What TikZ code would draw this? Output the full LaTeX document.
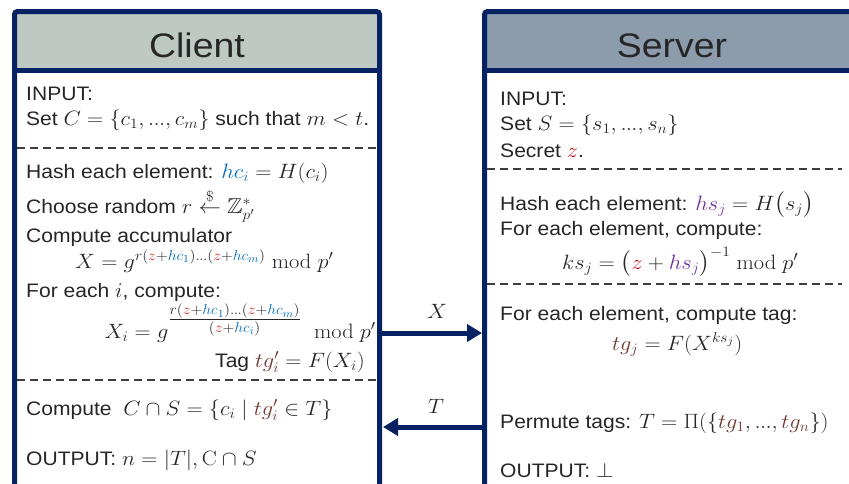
\documentclass[tikz,border=0pt]{standalone}
\usepackage{amsmath,amssymb,graphicx}
\usepackage[no-math]{fontspec}
\setmainfont{Liberation Sans}
\usetikzlibrary{arrows.meta}
\definecolor{navy}{RGB}{6,34,98}
\definecolor{clienthead}{RGB}{191,201,196}
\definecolor{serverhead}{RGB}{140,156,172}
\definecolor{txt}{RGB}{38,38,38}
\definecolor{zred}{RGB}{200,16,16}
\definecolor{hblue}{RGB}{0,112,192}
\definecolor{hpurple}{RGB}{112,48,160}
\definecolor{tbrown}{RGB}{112,56,46}
\newcommand{\zz}{\textcolor{zred}{z}}
\newcommand{\hc}[1]{\textcolor{hblue}{hc_{#1}}}
\newcommand{\hs}[1]{\textcolor{hpurple}{hs_{#1}}}
\newcommand{\tgg}[1]{\textcolor{tbrown}{tg_{#1}}}
\newcommand{\tgp}{\textcolor{tbrown}{tg'_i}}
\newcommand{\el}{{.\mkern-0.5mu.\mkern-0.5mu.}}
\newcommand{\m}[1]{{\fontsize{21.5}{25}\selectfont$#1$}}
\newcommand{\wx}[1]{\scalebox{1.08}[1]{#1}}
\newcommand{\wt}[1]{\scalebox{1.1}[1]{#1}}
\begin{document}
\begin{tikzpicture}[x=1pt,y=-1pt,
  box/.style={draw=navy,line width=5pt,rounded corners=3pt},
  hline/.style={draw=navy,line width=5pt},
  dline/.style={draw=txt!90,line width=1.3pt,dash pattern=on 8pt off 5pt},
  title/.style={anchor=base,inner sep=0pt,text=txt,font=\fontsize{34}{38}\selectfont},
  body/.style={anchor=base west,inner sep=0pt,text=txt,font=\fontsize{19.5}{23}\selectfont},
  bodyr/.style={body,anchor=base east},
  msg/.style={draw=navy,line width=5pt,-{Triangle[length=15pt,width=17pt]}},
  lab/.style={anchor=base,inner sep=0pt,text=txt}]
\clip (0,0) rectangle (849,483);
% client box
\fill[clienthead] (14.5,11.5) rectangle (379.5,70.5);
\fill[white] (14.5,70.5) rectangle (379.5,500);
\draw[box] (14.5,500) -- (14.5,11.5) -- (379.5,11.5) -- (379.5,500);
\draw[hline] (14.5,70.5) -- (379.5,70.5);
% server box
\fill[serverhead] (484.5,11.5) rectangle (862,70.5);
\fill[white] (484.5,70.5) rectangle (862,500);
\draw[box] (484.5,500) -- (484.5,11.5) -- (862,11.5) -- (862,500);
\draw[hline] (484.5,70.5) -- (862,70.5);
% titles
\node[title] (ctitle) at (197,57) {\wt{Client}};
\node[title] (stitle) at (672,57) {\wt{Server}};
% client dashes
\draw[dline] (17,148) -- (377,148);
\draw[dline] (17,380) -- (377,380);
% server dashes
\draw[dline] (487,169) -- (842,169);
\draw[dline] (487,284) -- (842,284);
% client text
\node[body] (c1) at (26,100) {\wx{INPUT:}};
\node[body] (c2) at (26,125) {\wx{Set \m{C=\{c_1,\el,c_m\}} such that \m{m<t}.}};
\node[body] (c3) at (26,178) {\wx{Hash each element: \m{\hc{i}=H(c_i)}}};
\node[body] (c4) at (26,213) {\wx{Choose random \m{r\overset{\$}{\leftarrow}\mathbb{Z}_{p'}^{*}}}};
\node[body] (c5) at (26,242) {\wx{Compute accumulator}};
\node[body] (c6) at (75,268) {\wx{\m{X=g^{r(\zz+\hc{1})\el(\zz+\hc{m})}\bmod p'}}};
\node[body] (c7) at (26,297) {\wx{For each \m{i}, compute:}};
\node[bodyr] (c8) at (376,338) {\wx{\m{X_i=g^{\genfrac{}{}{}{1}{r(\zz+\hc{1})\el(\zz+\hc{m})}{(\zz+\hc{i})}}\ \bmod p'}}};
\node[bodyr] (c9) at (365,367) {\wx{Tag \m{\tgp=F(X_i)}}};
\node[body] (c10) at (26,415) {\wx{Compute~~\m{C\cap S=\{c_i\mid \tgp\in T\}}}};
\node[body] (c11) at (26,465) {\wx{OUTPUT: \m{n=|T|,\mathrm{C}\cap S}}};
% server text
\node[body] (s1) at (500,105) {\wx{INPUT:}};
\node[body] (s2) at (500,130) {\wx{Set \m{S=\{s_1,\el,s_n\}}}};
\node[body] (s3) at (500,157) {\wx{Secret \m{\zz}.}};
\node[body] (s4) at (500,210) {\wx{Hash each element: \m{\hs{j}=H\big(s_j\big)}}};
\node[body] (s5) at (500,235) {\wx{For each element, compute:}};
\node[body] (s6) at (562,269) {\wx{\m{ks_j=\big(\zz+\hs{j}\big)^{-1}\bmod p'}}};
\node[body] (s7) at (500,320) {\wx{For each element, compute tag:}};
\node[body] (s8) at (612,350) {\wx{\m{\tgg{j}=F(X^{ks_j})}}};
\node[body] (s9) at (500,428) {\wx{Permute tags: \m{T=\Pi(\{\tgg{1},\el,\tgg{n}\})}}};
\node[body] (s10) at (500,477) {\wx{OUTPUT: \m{\perp}}};
% messages
\coordinate (cX) at (382,333);
\coordinate (sX) at (482,333);
\coordinate (sT) at (482,427);
\coordinate (cT) at (383,427);
\draw[msg] (cX) -- (sX);
\draw[msg] (sT) -- (cT);
\node[lab] (lX) at (437,318) {\wx{\m{X}}};
\node[lab] (lT) at (436,413) {\wx{\m{T}}};
\end{tikzpicture}
\end{document}
